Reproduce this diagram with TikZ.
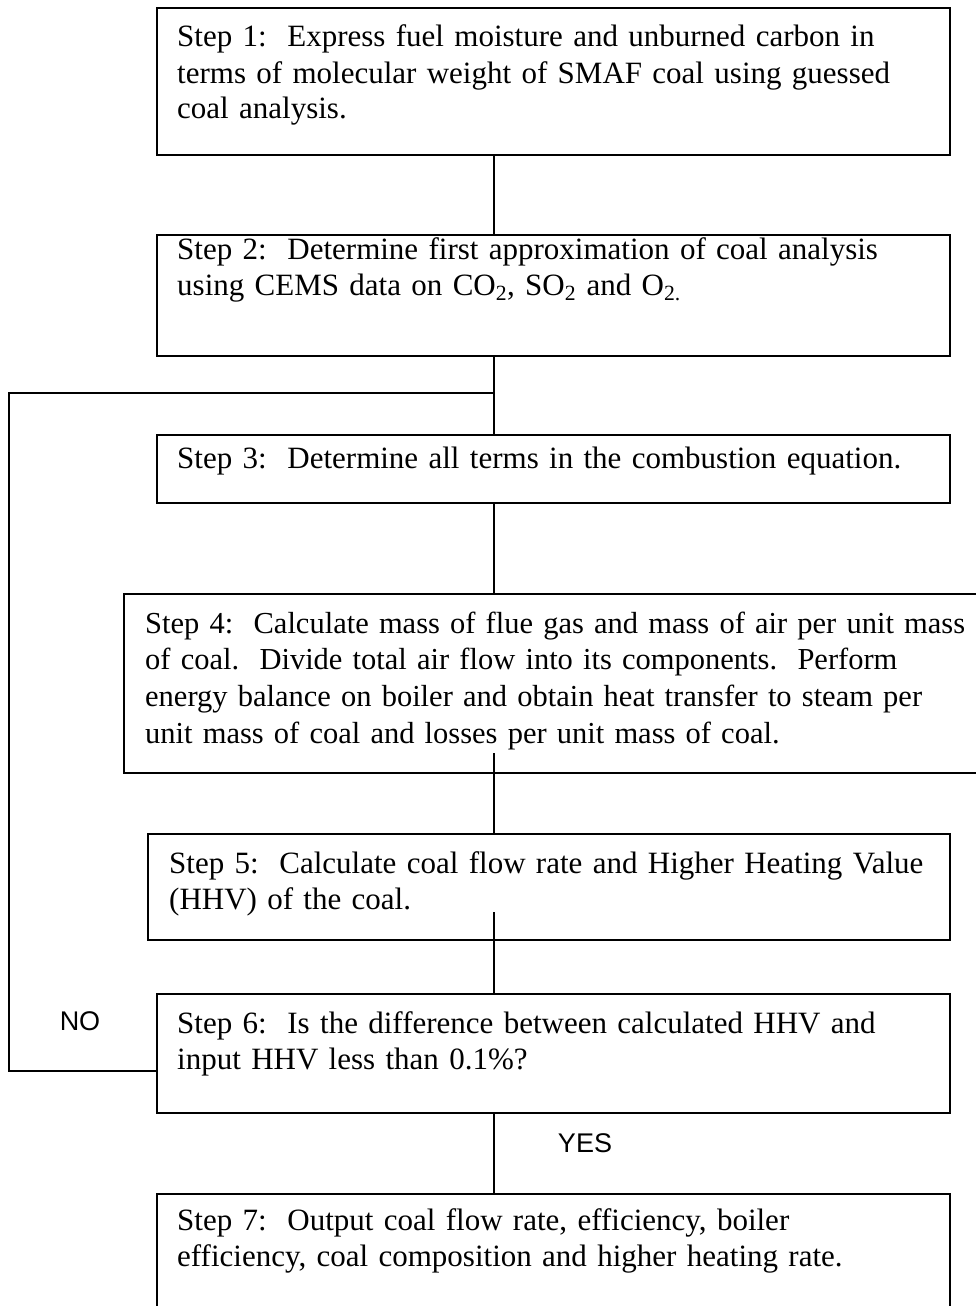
\documentclass[tikz,border=0pt]{standalone}
\usepackage{fontspec}
\setmainfont{Liberation Serif}
\newfontfamily\lblfont{Liberation Sans}
\begin{document}
\begin{tikzpicture}[x=1pt,y=-1pt,
  box/.style={draw, line width=1.6pt, rectangle, inner sep=0pt, anchor=north west},
  txt/.style={anchor=base west, align=left, text width=840pt, inner sep=0pt, font=\fontsize{31}{36}\selectfont},
  lbl/.style={font=\lblfont\fontsize{27}{30}\selectfont, inner sep=0pt},
  conn/.style={line width=1.6pt}]
\useasboundingbox (0,0) rectangle (976,1306);
% boxes
\node[box, minimum width=793pt, minimum height=147pt] (b1) at (156,7) {};
\node[box, minimum width=793pt, minimum height=121pt] (b2) at (156,234) {};
\node[box, minimum width=793pt, minimum height=68pt]  (b3) at (156,434) {};
\node[box, minimum width=860pt, minimum height=179pt] (b4) at (123,593) {};
\node[box, minimum width=802pt, minimum height=106pt] (b5) at (147,833) {};
\node[box, minimum width=793pt, minimum height=119pt] (b6) at (156,993) {};
\node[box, minimum width=793pt, minimum height=150pt] (b7) at (156,1193) {};
% texts
\node[txt] (t1) at (177,47) {Step 1:\ \ Express fuel moisture and unburned carbon in\\terms of molecular weight of SMAF coal using guessed\\coal analysis.};
\node[txt] (t2) at (177,259) {Step 2:\ \ Determine first approximation of coal analysis\\using CEMS data on CO\textsubscript{2}, SO\textsubscript{2} and O\textsubscript{2.}};
\node[txt] (t3) at (177,468) {Step 3:\ \ Determine all terms in the combustion equation.};
\node[txt, font=\fontsize{30.5}{36.7}\selectfont] (t4) at (145,633) {Step 4:\ \ Calculate mass of flue gas and mass of air per unit mass\\of coal.\ \ Divide total air flow into its components.\ \ Perform\\energy balance on boiler and obtain heat transfer to steam per\\unit mass of coal and losses per unit mass of coal.};
\node[txt] (t5) at (169,873) {Step 5:\ \ Calculate coal flow rate and Higher Heating Value\\(HHV) of the coal.};
\node[txt] (t6) at (177,1033) {Step 6:\ \ Is the difference between calculated HHV and\\input HHV less than 0.1\%?};
\node[txt] (t7) at (177,1230) {Step 7:\ \ Output coal flow rate, efficiency, boiler\\efficiency, coal composition and higher heating rate.};
% labels
\node[lbl] (no) at (80,1021) {NO};
\node[lbl] (yes) at (585,1143) {YES};
% connector points
\coordinate (spine) at (494,0);
\coordinate (j) at (494,393);
\coordinate (fl) at (9,393);
\coordinate (fb) at (9,1071);
\coordinate (s4) at (494,753);
\coordinate (s5) at (494,912);
% connectors
\draw[conn] (b1.south -| spine) -- (b2.north -| spine);
\draw[conn] (b2.south -| spine) -- (b3.north -| spine);
\draw[conn] (b3.south -| spine) -- (b4.north -| spine);
\draw[conn] (s4) -- (b5.north -| s4);
\draw[conn] (s5) -- (b6.north -| s5);
\draw[conn] (b6.south -| spine) -- (b7.north -| spine);
\draw[conn] (j) -- (fl) -- (fb) -- (b6.west |- fb);
\end{tikzpicture}
\end{document}
